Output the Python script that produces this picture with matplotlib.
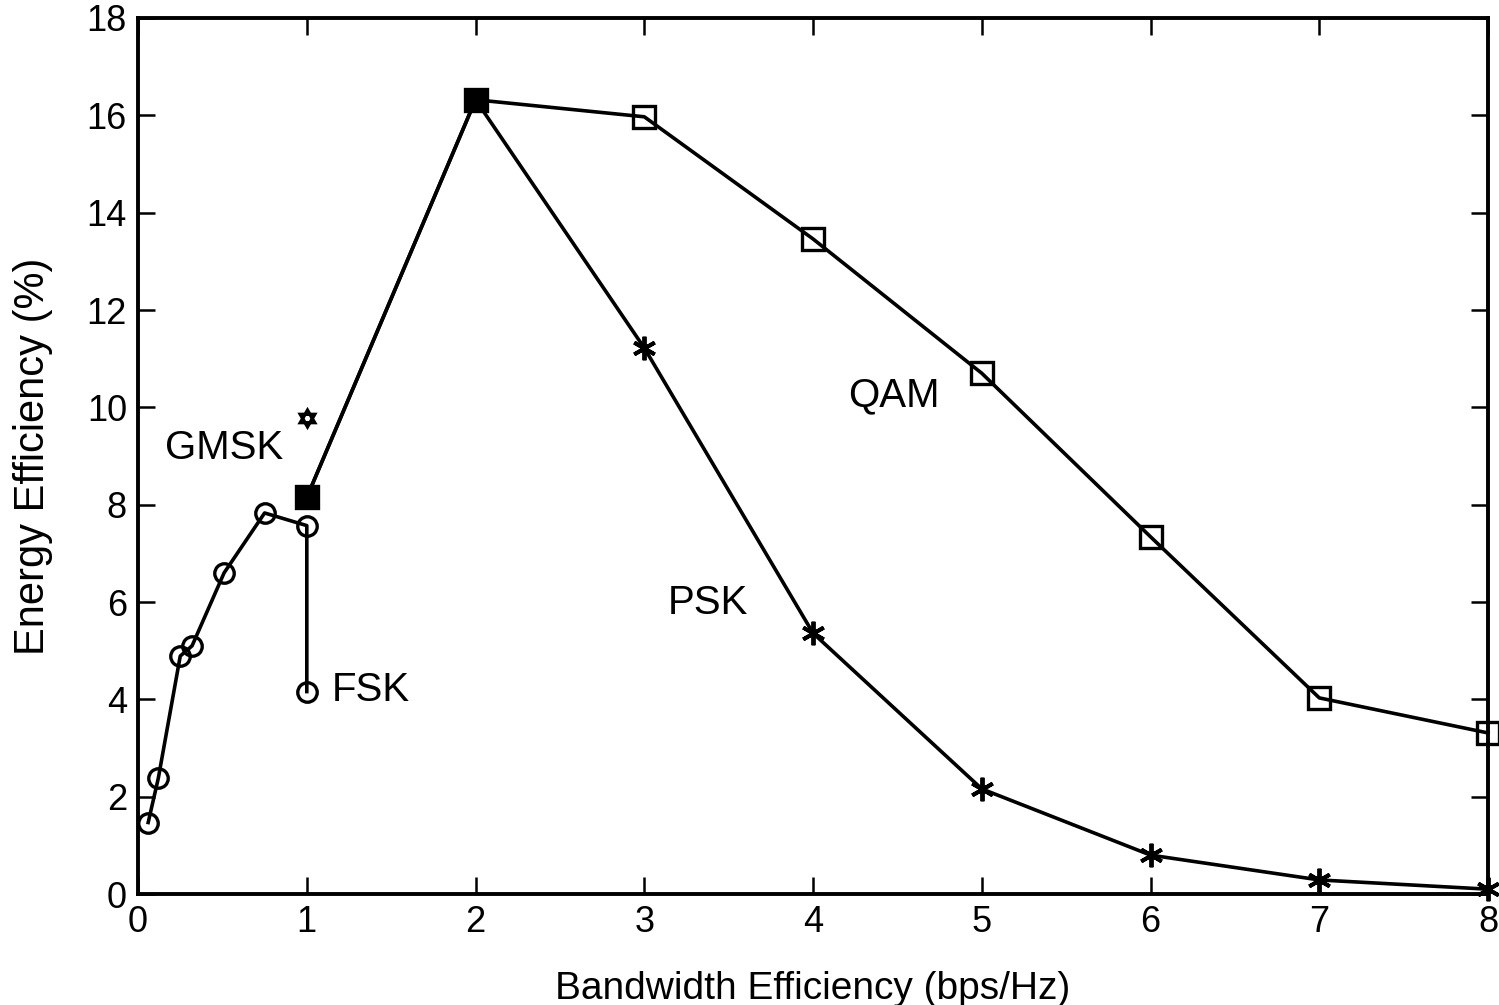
import matplotlib
matplotlib.use("Agg")
import matplotlib.pyplot as plt

plt.rcParams['font.family'] = ['Liberation Sans', 'DejaVu Sans']

fsk_x = [0.06, 0.12, 0.25, 0.32, 0.51, 0.75, 1.0, 1.0]
fsk_y = [1.47, 2.38, 4.89, 5.10, 6.60, 7.83, 7.57, 4.16]

gmsk_x = [1.0]
gmsk_y = [9.78]

qam_x = [1, 2, 3, 4, 5, 6, 7, 8]
qam_y = [8.15, 16.32, 15.97, 13.46, 10.70, 7.34, 4.03, 3.31]

psk_x = [1, 2, 3, 4, 5, 6, 7, 8]
psk_y = [8.15, 16.32, 11.22, 5.36, 2.16, 0.80, 0.29, 0.10]

fig = plt.figure(figsize=(14.99, 10.05), dpi=100)
ax = fig.add_axes([0.0921, 0.1104, 0.9006, 0.8717])

lw = 2.6
ax.plot(fsk_x, fsk_y, 'k-', marker='o', mfc='none', mec='k', ms=14, mew=2.4, lw=lw, clip_on=False)
ax.plot(psk_x, psk_y, 'k-', marker=(6, 2, 0), ms=17, mew=2.8, lw=lw, clip_on=False)
ax.plot(qam_x, qam_y, 'k-', marker='s', mfc='none', mec='k', ms=16, mew=2.4, lw=lw, clip_on=False)
# shared points where QAM and PSK coincide look filled
ax.plot(qam_x[:2], qam_y[:2], 'ks', ms=16, ls='none')
ax.plot(gmsk_x, gmsk_y, 'k', marker=(3, 0, 0), ms=12, mfc='none', mew=2.4, ls='none')
ax.plot(gmsk_x, gmsk_y, 'k', marker=(3, 0, 180), ms=12, mfc='none', mew=2.4, ls='none')

ax.text(0.16, 9.16, 'GMSK', fontsize=29, va='center')
ax.text(1.15, 4.19, 'FSK', fontsize=29, va='center')
ax.text(3.14, 5.98, 'PSK', fontsize=29, va='center')
ax.text(4.21, 10.25, 'QAM', fontsize=29, va='center')

ax.set_xlim(0, 8)
ax.set_ylim(0, 18)
ax.set_xticks(range(0, 9))
ax.set_yticks(range(0, 19, 2))
ax.tick_params(direction='in', length=12, width=1.8, labelsize=26, top=True, right=True, pad=8)
for s in ax.spines.values():
    s.set_linewidth(2.8)
ax.set_xlabel('Bandwidth Efficiency (bps/Hz)', fontsize=28, labelpad=22)
ax.set_ylabel('Energy Efficiency (%)', fontsize=30, labelpad=24)

fig.savefig('out.png', dpi=100)
